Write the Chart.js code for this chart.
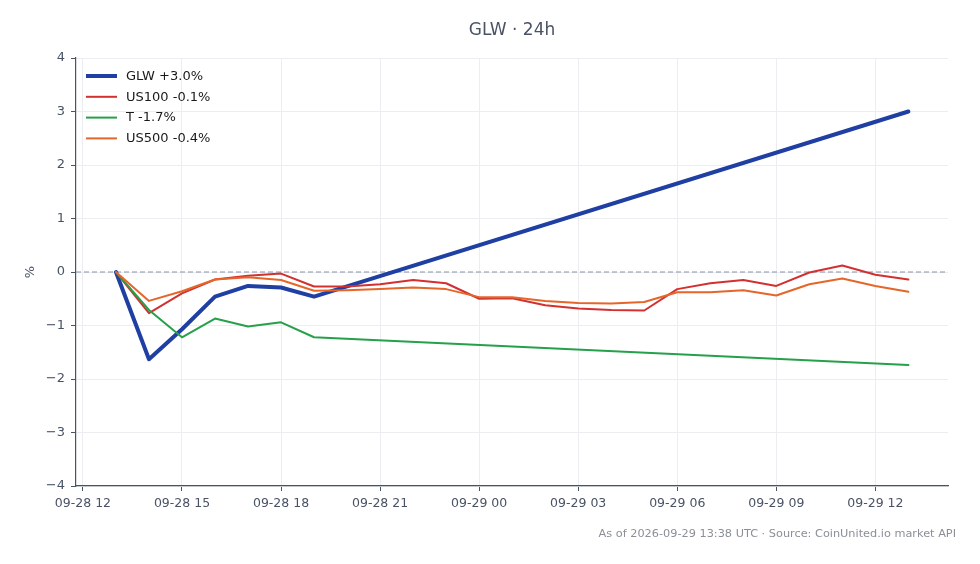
<!DOCTYPE html>
<html>
<head>
<meta charset="utf-8">
<script src="https://cdn.jsdelivr.net/npm/chart.js@4.4.0/dist/chart.umd.min.js"></script>
<style>
html,body{margin:0;padding:0;background:#fff;}
#wrap{width:980px;height:564px;position:relative;}
</style>
</head>
<body>
<div id="wrap"><canvas id="c" width="980" height="564"></canvas></div>
<script>
// Hours since 09-28 12:00 UTC
const title = "GLW · 24h";
const footer = "As of 2026-09-29 13:38 UTC · Source: CoinUnited.io market API";
const xTicks = [0, 3, 6, 9, 12, 15, 18, 21, 24];
const yTicks = [-4, -3, -2, -1, 0, 1, 2, 3, 4];

const glwHours = [1, 2, 3, 4, 5, 6, 7, 25];
const glwValues = [0, -1.63, -1.07, -0.46, -0.26, -0.29, -0.46, 3.0];

const tHours = [1, 2, 3, 4, 5, 6, 7, 25];
const tValues = [0, -0.71, -1.22, -0.87, -1.02, -0.94, -1.22, -1.74];

const idxHours = [1,2,3,4,5,6,7,8,9,10,11,12,13,14,15,16,17,18,19,20,21,22,23,24,25];
const us100Values = [0,-0.77,-0.40,-0.14,-0.07,-0.03,-0.27,-0.27,-0.23,-0.15,-0.21,-0.50,-0.49,-0.62,-0.68,-0.71,-0.72,-0.32,-0.21,-0.15,-0.26,-0.01,0.12,-0.05,-0.14];
const us500Values = [0,-0.54,-0.36,-0.14,-0.10,-0.15,-0.35,-0.34,-0.32,-0.29,-0.32,-0.47,-0.47,-0.54,-0.58,-0.59,-0.56,-0.38,-0.38,-0.34,-0.44,-0.23,-0.12,-0.26,-0.37];

const seriesLabels = ["GLW +3.0%", "US100 -0.1%", "T -1.7%", "US500 -0.4%"];
const seriesColors = ["#1f3fa3", "#d33030", "#26a04b", "#e4662a"];
const seriesWidths = [4, 2, 2, 2];

function pts(xs, ys){ return xs.map((x,i)=>({x:x, y:ys[i]})); }

const FONT = "'DejaVu Sans', sans-serif";
const TXT = "#4a5365";

const overlay = {
  id: 'overlay',
  beforeDatasetsDraw(chart){
    const {ctx, chartArea, scales} = chart;
    const y0 = scales.y.getPixelForValue(0);
    ctx.save();
    ctx.strokeStyle = '#8a93a5';
    ctx.lineWidth = 1;
    ctx.setLineDash([5,3]);
    ctx.beginPath();
    ctx.moveTo(chartArea.left, y0);
    ctx.lineTo(chartArea.right, y0);
    ctx.stroke();
    ctx.restore();
  },
  afterDraw(chart){
    const {ctx, chartArea, scales} = chart;
    ctx.save();
    // title
    ctx.fillStyle = TXT;
    ctx.font = "17px " + FONT;
    ctx.textAlign = 'center';
    ctx.textBaseline = 'middle';
    ctx.fillText(title, (chartArea.left + chartArea.right)/2, 31);
    // y title
    ctx.save();
    ctx.translate(31, scales.y.getPixelForValue(0));
    ctx.rotate(-Math.PI/2);
    ctx.font = "13px " + FONT;
    ctx.fillText("%", 0, 0);
    ctx.restore();
    // footer
    ctx.fillStyle = '#8a8f98';
    ctx.font = "11.3px " + FONT;
    ctx.textAlign = 'right';
    ctx.fillText(footer, 956, 534);
    // legend
    ctx.font = "13px " + FONT;
    ctx.textAlign = 'left';
    for (let i = 0; i < seriesLabels.length; i++) {
      const y = 76 + i * 20.8;
      ctx.strokeStyle = seriesColors[i];
      ctx.lineWidth = seriesWidths[i];
      ctx.beginPath();
      ctx.moveTo(86, y);
      ctx.lineTo(117, y);
      ctx.stroke();
      ctx.fillStyle = '#1a1a1a';
      ctx.fillText(seriesLabels[i], 126, y + 0.5);
    }
    ctx.restore();
  }
};

function fmtHour(h){
  const day = 28 + Math.floor((12 + h) / 24);
  const hr = (12 + h) % 24;
  return "09-" + String(day).padStart(2,'0') + " " + String(hr).padStart(2,'0');
}

new Chart(document.getElementById('c'), {
  type: 'line',
  data: {
    datasets: [
      {label: seriesLabels[0], data: pts(glwHours, glwValues), borderColor: seriesColors[0], borderWidth: seriesWidths[0], order: 3},
      {label: seriesLabels[1], data: pts(idxHours, us100Values), borderColor: seriesColors[1], borderWidth: seriesWidths[1], order: 2},
      {label: seriesLabels[2], data: pts(tHours, tValues), borderColor: seriesColors[2], borderWidth: seriesWidths[2], order: 1},
      {label: seriesLabels[3], data: pts(idxHours, us500Values), borderColor: seriesColors[3], borderWidth: seriesWidths[3], order: 0}
    ]
  },
  options: {
    responsive: false,
    animation: false,
    devicePixelRatio: 1,
    layout: {padding: {left: 0, right: 32, top: 58, bottom: 0}},
    elements: {
      point: {radius: 0, hoverRadius: 0},
      line: {tension: 0, fill: false, borderJoinStyle: 'round', borderCapStyle: 'round'}
    },
    plugins: {legend: {display: false}, tooltip: {enabled: false}, title: {display: false}},
    scales: {
      x: {
        type: 'linear',
        min: -0.21,
        max: 26.2,
        afterBuildTicks(scale){ scale.ticks = xTicks.map(v => ({value: v})); },
        afterFit(scale){ scale.height = 564 - 486; },
        ticks: {
          callback: (v) => fmtHour(v),
          color: TXT,
          font: {family: FONT, size: 12.5},
          padding: 5,
          maxRotation: 0,
          autoSkip: false
        },
        grid: {color: '#ebedf0', lineWidth: 1, tickLength: 5, tickColor: '#4a5365', drawTicks: true},
        border: {display: true, color: '#4a5365', width: 1.2}
      },
      y: {
        type: 'linear',
        min: -4,
        max: 4,
        afterBuildTicks(scale){ scale.ticks = yTicks.map(v => ({value: v})); },
        afterFit(scale){ scale.width = 76; },
        ticks: {
          callback: (v) => (v < 0 ? "\u2212" + Math.abs(v) : String(v)),
          color: TXT,
          font: {family: FONT, size: 13},
          padding: 6
        },
        grid: {color: '#ebedf0', lineWidth: 1, tickLength: 5, tickColor: '#4a5365', drawTicks: true},
        border: {display: true, color: '#4a5365', width: 1.2}
      }
    }
  },
  plugins: [overlay]
});
</script>
</body>
</html>
